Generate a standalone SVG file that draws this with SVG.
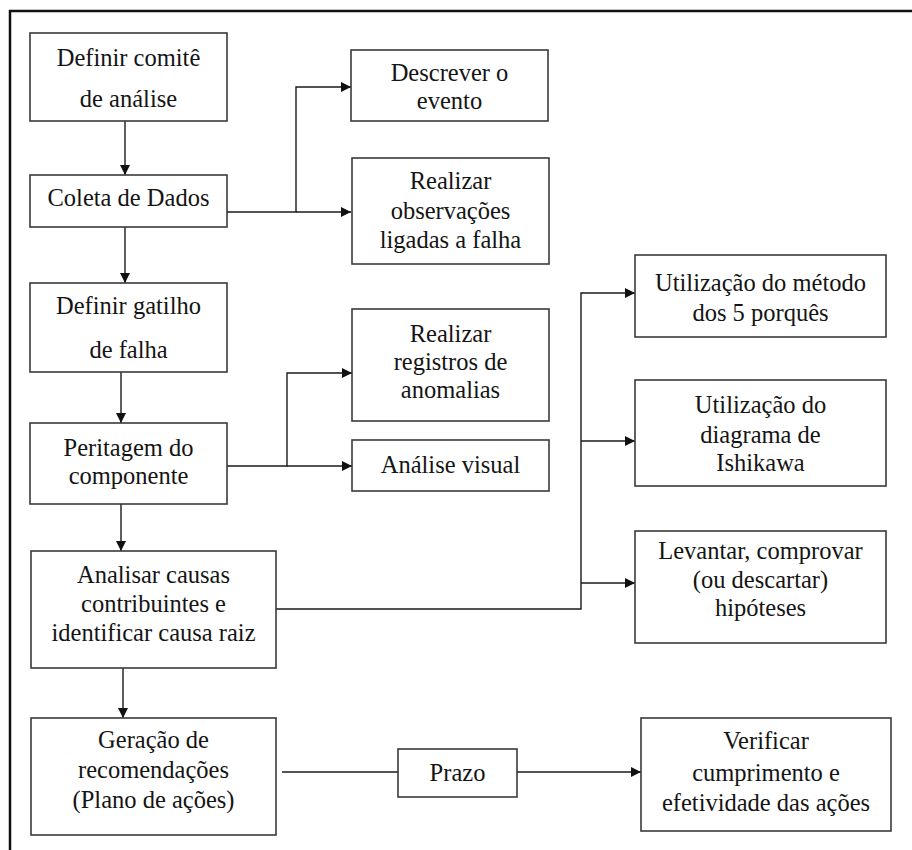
<svg xmlns="http://www.w3.org/2000/svg" width="912" height="850" viewBox="0 0 912 850">
  <style>
    .box { fill: #ffffff; stroke: #3a3a3a; stroke-width: 1.6; }
    .lbl { font-size: 24.5px; fill: #141414; text-anchor: middle; }
    .wire { fill: none; stroke: #1a1a1a; stroke-width: 1.4; }
    .frame { fill: none; stroke: #111111; stroke-width: 2.5; }
  </style>
  <defs>
    <marker id="arrow" viewBox="0 0 10 10" refX="10" refY="5" markerWidth="10" markerHeight="10" markerUnits="userSpaceOnUse" orient="auto">
      <path d="M0,0 L10,5 L0,10 Z" fill="#111111"/>
    </marker>
  </defs>

  <rect width="912" height="850" fill="#ffffff"/>
  <path class="frame" d="M10,850 V11 H912"/>

  <g id="connectors">
    <path class="wire" d="M125,121 V175" marker-end="url(#arrow)"/>
    <path class="wire" d="M125,227 V283" marker-end="url(#arrow)"/>
    <path class="wire" d="M121,372 V423" marker-end="url(#arrow)"/>
    <path class="wire" d="M121,504 V551" marker-end="url(#arrow)"/>
    <path class="wire" d="M123,668 V718" marker-end="url(#arrow)"/>

    <path class="wire" d="M227,212 H296 V87 H351" marker-end="url(#arrow)"/>
    <path class="wire" d="M296,212 H351" marker-end="url(#arrow)"/>

    <path class="wire" d="M227,466 H287 V373 H352" marker-end="url(#arrow)"/>
    <path class="wire" d="M287,466 H352" marker-end="url(#arrow)"/>

    <path class="wire" d="M276,609 H581 V293 H635" marker-end="url(#arrow)"/>
    <path class="wire" d="M581,441 H635" marker-end="url(#arrow)"/>
    <path class="wire" d="M581,583 H635" marker-end="url(#arrow)"/>

    <path class="wire" d="M282,772 H398"/>
    <path class="wire" d="M517,772 H641" marker-end="url(#arrow)"/>
  </g>

  <g font-family="Liberation Serif">
  <g id="definir-comite">
    <rect class="box" x="30" y="33" width="197" height="88"/>
    <text class="lbl" x="128.5" y="66">Definir comitê</text>
    <text class="lbl" x="128.5" y="107">de análise</text>
  </g>
  <g id="coleta-dados">
    <rect class="box" x="30" y="175" width="197" height="52"/>
    <text class="lbl" x="128.5" y="206">Coleta de Dados</text>
  </g>
  <g id="definir-gatilho">
    <rect class="box" x="30" y="283" width="197" height="89"/>
    <text class="lbl" x="128.5" y="314">Definir gatilho</text>
    <text class="lbl" x="128.5" y="358">de falha</text>
  </g>
  <g id="peritagem">
    <rect class="box" x="30" y="423" width="197" height="81"/>
    <text class="lbl" x="128.5" y="456">Peritagem do</text>
    <text class="lbl" x="128.5" y="484">componente</text>
  </g>
  <g id="analisar-causas">
    <rect class="box" x="31" y="551" width="245" height="117"/>
    <text class="lbl" x="153.5" y="583">Analisar causas</text>
    <text class="lbl" x="153.5" y="612">contribuintes e</text>
    <text class="lbl" x="153.5" y="641">identificar causa raiz</text>
  </g>
  <g id="geracao-recomendacoes">
    <rect class="box" x="31" y="718" width="245" height="117"/>
    <text class="lbl" x="153.5" y="748">Geração de</text>
    <text class="lbl" x="153.5" y="778">recomendações</text>
    <text class="lbl" x="153.5" y="808">(Plano de ações)</text>
  </g>
  <g id="descrever-evento">
    <rect class="box" x="351" y="50" width="197" height="71"/>
    <text class="lbl" x="449.5" y="81">Descrever o</text>
    <text class="lbl" x="449.5" y="109">evento</text>
  </g>
  <g id="realizar-observacoes">
    <rect class="box" x="352" y="158" width="197" height="106"/>
    <text class="lbl" x="450.5" y="189">Realizar</text>
    <text class="lbl" x="450.5" y="219">observações</text>
    <text class="lbl" x="450.5" y="248">ligadas a falha</text>
  </g>
  <g id="realizar-registros">
    <rect class="box" x="352" y="309" width="197" height="112"/>
    <text class="lbl" x="450.5" y="342">Realizar</text>
    <text class="lbl" x="450.5" y="370">registros de</text>
    <text class="lbl" x="450.5" y="398">anomalias</text>
  </g>
  <g id="analise-visual">
    <rect class="box" x="352" y="440" width="197" height="51"/>
    <text class="lbl" x="450.5" y="473">Análise visual</text>
  </g>
  <g id="metodo-5-porques">
    <rect class="box" x="635" y="255" width="251" height="82"/>
    <text class="lbl" x="760.5" y="291">Utilização do método</text>
    <text class="lbl" x="760.5" y="321">dos 5 porquês</text>
  </g>
  <g id="diagrama-ishikawa">
    <rect class="box" x="635" y="380" width="251" height="106"/>
    <text class="lbl" x="760.5" y="413">Utilização do</text>
    <text class="lbl" x="760.5" y="443">diagrama de</text>
    <text class="lbl" x="760.5" y="471">Ishikawa</text>
  </g>
  <g id="levantar-hipoteses">
    <rect class="box" x="635" y="531" width="251" height="112"/>
    <text class="lbl" x="760.5" y="559">Levantar, comprovar</text>
    <text class="lbl" x="760.5" y="588">(ou descartar)</text>
    <text class="lbl" x="760.5" y="616">hipóteses</text>
  </g>
  <g id="prazo">
    <rect class="box" x="398" y="749" width="119" height="48"/>
    <text class="lbl" x="457.5" y="781">Prazo</text>
  </g>
  <g id="verificar-cumprimento">
    <rect class="box" x="641" y="718" width="250" height="113"/>
    <text class="lbl" x="766" y="749">Verificar</text>
    <text class="lbl" x="766" y="781">cumprimento e</text>
    <text class="lbl" x="766" y="811">efetividade das ações</text>
  </g>
  </g>
</svg>
